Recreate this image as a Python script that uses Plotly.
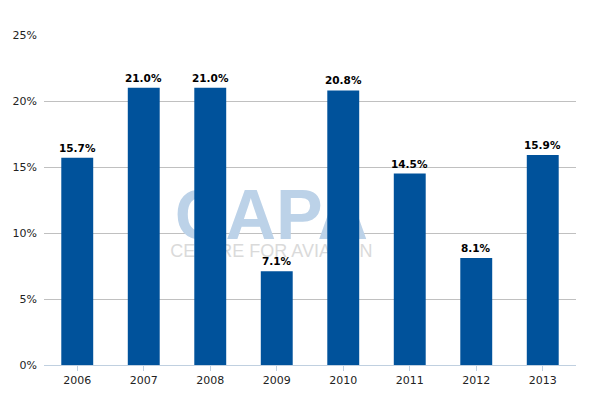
import plotly.graph_objects as go

years = ["2006", "2007", "2008", "2009", "2010", "2011", "2012", "2013"]
values = [15.7, 21.0, 21.0, 7.1, 20.8, 14.5, 8.1, 15.9]
labels = ["15.7%", "21.0%", "21.0%", "7.1%", "20.8%", "14.5%", "8.1%", "15.9%"]
y_ticks = [0, 5, 10, 15, 20, 25]
y_tick_labels = ["0%", "5%", "10%", "15%", "20%", "25%"]

xs = list(range(len(years)))
fig = go.Figure()

# watermark on base axes (drawn below bars on overlay axes)
fig.add_trace(go.Scatter(
    x=[2.92], y=[10.9], mode="text", text=["<b>CAPA</b>"],
    textfont=dict(family="Liberation Sans", size=70, color="#BCD2E8"),
    xaxis="x", yaxis="y", hoverinfo="skip", showlegend=False, cliponaxis=False,
))
fig.add_trace(go.Scatter(
    x=[2.92], y=[8.5], mode="text", text=["CENTRE FOR AVIATION"],
    textfont=dict(family="Liberation Sans", size=18, color="#DADADA"),
    xaxis="x", yaxis="y", hoverinfo="skip", showlegend=False, cliponaxis=False,
))

fig.add_trace(go.Bar(
    x=xs, y=values,
    marker=dict(color="#00529B", line=dict(width=0)),
    width=0.48, xaxis="x2", yaxis="y2", showlegend=False, hoverinfo="skip",
))

for xi, v, lab in zip(xs, values, labels):
    fig.add_annotation(
        x=xi, y=v, xref="x2", yref="y2", text="<b>" + lab + "</b>",
        showarrow=False, yanchor="bottom", yshift=2,
        font=dict(family="DejaVu Sans", size=10.5, color="#000000"),
    )

axis_x = dict(range=[-0.5, 7.5], tickmode="array", tickvals=xs,
              ticktext=years, showgrid=False, zeroline=False)
axis_y = dict(range=[0, 25], tickmode="array", tickvals=y_ticks, ticktext=y_tick_labels,
              showgrid=True, gridcolor="#C0C0C0", gridwidth=1, zeroline=False)

fig.update_layout(
    width=600, height=400,
    margin=dict(l=36, r=32, t=27, b=43, autoexpand=False),
    plot_bgcolor="white", paper_bgcolor="white",
    font=dict(family="DejaVu Sans", size=11, color="#222222"),
    xaxis=dict(**axis_x, showline=True, linecolor="#C0D0E0", linewidth=1,
               ticks="outside", tickcolor="#C0D0E0", ticklen=5, automargin=False,
               tickfont=dict(size=11, color="#222222")),
    yaxis=dict(**axis_y, showline=False, ticks="", automargin=False,
               tickfont=dict(size=11, color="#222222"), ticklabelstandoff=6),
    xaxis2=dict(range=[-0.5, 7.5], overlaying="x", visible=False),
    yaxis2=dict(range=[0, 25], overlaying="y", visible=False),
)

fig.write_html("out.html")
